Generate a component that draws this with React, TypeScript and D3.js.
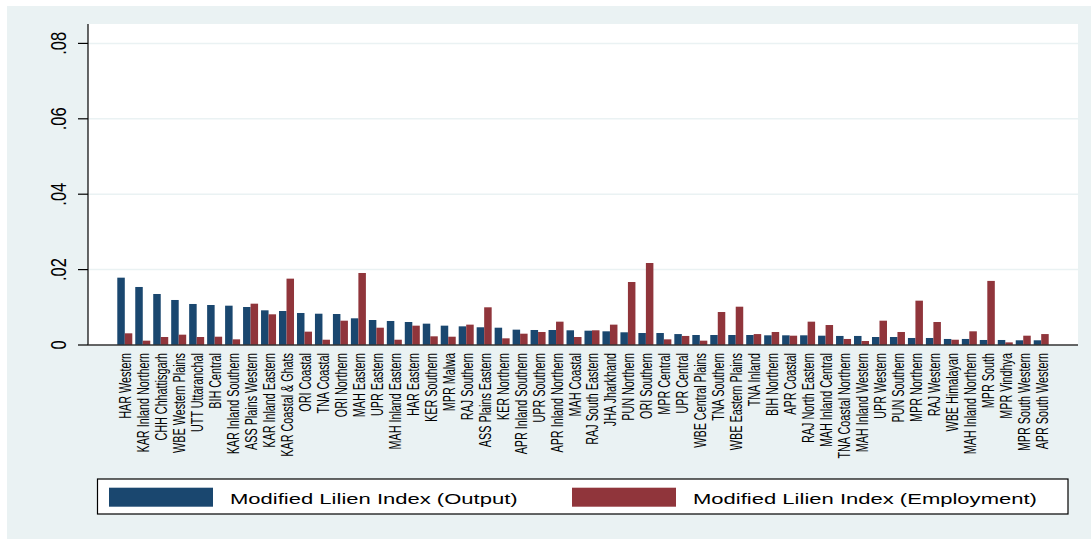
import React from "react";
import * as d3 from "d3";

const categories: string[] = [
  "HAR Western", "KAR Inland Northern", "CHH Chhattisgarh", "WBE Western Plains", "UTT Uttaranchal",
  "BIH Central", "KAR Inland Southern", "ASS Plains Western", "KAR Inland Eastern", "KAR Coastal & Ghats",
  "ORI Coastal", "TNA Coastal", "ORI Northern", "MAH Eastern", "UPR Eastern",
  "MAH Inland Eastern", "HAR Eastern", "KER Southern", "MPR Malwa", "RAJ Southern",
  "ASS Plains Eastern", "KER Northern", "APR Inland Southern", "UPR Southern", "APR Inland Northern",
  "MAH Coastal", "RAJ South Eastern", "JHA Jharkhand", "PUN Northern", "ORI Southern",
  "MPR Central", "UPR Central", "WBE Central Plains", "TNA Southern", "WBE Eastern Plains",
  "TNA Inland", "BIH Northern", "APR Coastal", "RAJ North Eastern", "MAH Inland Central",
  "TNA Coastal Northern", "MAH Inland Western", "UPR Western", "PUN Southern", "MPR Northern",
  "RAJ Western", "WBE Himalayan", "MAH Inland Northern", "MPR South", "MPR Vindhya",
  "MPR South Western", "APR South Western",
];

const outputValues: number[] = [
  0.01786, 0.01539, 0.01353, 0.01194, 0.01088,
  0.01061, 0.01043, 0.01008, 0.0092, 0.00902,
  0.00849, 0.0083, 0.00822, 0.00708, 0.00663,
  0.00637, 0.0061, 0.00566, 0.00513, 0.00495,
  0.0047, 0.00459, 0.00407, 0.00398, 0.00398,
  0.0039, 0.0038, 0.00363, 0.00337, 0.00318,
  0.00318, 0.0029, 0.00265, 0.00265, 0.00265,
  0.00265, 0.00257, 0.00257, 0.00257, 0.00247,
  0.0024, 0.0024, 0.00212, 0.00212, 0.00186,
  0.00186, 0.0016, 0.0016, 0.00133, 0.00133,
  0.00125, 0.00125,
];

const employmentValues: number[] = [
  0.0031, 0.00115, 0.00212, 0.00274, 0.00212,
  0.0022, 0.0015, 0.01096, 0.00814, 0.0176,
  0.00354, 0.0014, 0.00645, 0.0191, 0.00459,
  0.0014, 0.00513, 0.0023, 0.0022, 0.0054,
  0.01, 0.00177, 0.003, 0.00345, 0.00619,
  0.00212, 0.0039, 0.0054, 0.01671, 0.02175,
  0.0015, 0.0024, 0.00115, 0.00875, 0.01016,
  0.0029, 0.00345, 0.00247, 0.00619, 0.0053,
  0.0016, 0.00106, 0.00645, 0.00345, 0.01176,
  0.0061, 0.0014, 0.00363, 0.017, 0.0007,
  0.00247, 0.0029,
];

const yTicks: number[] = [0, 0.02, 0.04, 0.06, 0.08];
const seriesNames: string[] = ["Modified Lilien Index (Output)", "Modified Lilien Index (Employment)"];
const seriesColors: string[] = ["#1a476f", "#90353b"];

const W = 1091;
const H = 539;
const BG = "#eaf2f3";
const plotLeft = 88;
const plotRight = 1078;
const plotTop = 24;
const plotBottom = 345;

const fmtTick = (v: number) => (v === 0 ? "0" : d3.format(".2f")(v).replace(/^0/, ""));

export default function App() {
  const x = d3
    .scaleBand<string>()
    .domain(categories)
    .range([plotLeft, plotRight])
    .paddingInner(0.165)
    .paddingOuter(1.63);
  const xs = d3.scaleBand<number>().domain([0, 1]).range([0, x.bandwidth()]);
  const y = d3.scaleLinear().domain([0, 0.08]).range([plotBottom, 43.4]);

  const series = [outputValues, employmentValues];

  return (
    <svg
      width={W}
      height={H}
      style={{ position: "absolute", left: 0, top: 0, display: "block" }}
      fontFamily="'Liberation Sans', Arial, sans-serif"
    >
      <rect x={0} y={0} width={W} height={H} fill="#ffffff" />
      <rect x={7} y={6} width={W - 7} height={H - 6} fill={BG} />
      <rect x={plotLeft} y={plotTop} width={plotRight - plotLeft} height={plotBottom - plotTop} fill="#ffffff" />

      {/* gridlines */}
      {yTicks.filter((t) => t > 0).map((t) => (
        <line key={"g" + t} x1={plotLeft} x2={plotRight} y1={y(t)} y2={y(t)} stroke={BG} strokeWidth={1.5} />
      ))}

      {/* bars */}
      {categories.map((c, i) => (
        <g key={c}>
          {series.map((vals, s) => (
            <rect
              key={s}
              x={(x(c) as number) + (xs(s) as number)}
              y={y(vals[i])}
              width={xs.bandwidth()}
              height={plotBottom - y(vals[i])}
              fill={seriesColors[s]}
            />
          ))}
        </g>
      ))}

      {/* axes */}
      <line x1={plotLeft} x2={plotLeft} y1={plotTop} y2={plotBottom} stroke="#000" strokeWidth={1.2} />
      <line x1={plotLeft} x2={plotRight} y1={plotBottom} y2={plotBottom} stroke="#333" strokeWidth={1.5} />
      {yTicks.map((t) => (
        <g key={"t" + t}>
          <line x1={78} x2={plotLeft} y1={y(t)} y2={y(t)} stroke="#000" strokeWidth={1.2} />
          <text
            transform={`translate(66,${y(t)}) rotate(-90) scale(1,1.35)`}
            textAnchor="middle"
            fontSize={16.5}
            fill="#000"
          >
            {fmtTick(t)}
          </text>
        </g>
      ))}

      {/* category labels */}
      {categories.map((c) => {
        const cx = (x(c) as number) + x.bandwidth() / 2;
        return (
          <text
            key={"l" + c}
            transform={`translate(${cx + 6.5},353) rotate(-90) scale(1,1.5)`}
            textAnchor="end"
            fontSize={10.8}
            fill="#000"
          >
            {c}
          </text>
        );
      })}

      {/* legend */}
      <rect x={97.5} y={479} width={970.5} height={35} fill="#ffffff" stroke="#000" strokeWidth={1.2} />
      {[109, 572].map((lx, s) => (
        <g key={"lg" + s}>
          <rect x={lx} y={487.7} width={104} height={19} fill={seriesColors[s]} />
          <text transform={`translate(${lx + 121},503.5) scale(1.43,1)`} fontSize={15.4} fill="#000">
            {seriesNames[s]}
          </text>
        </g>
      ))}
    </svg>
  );
}
